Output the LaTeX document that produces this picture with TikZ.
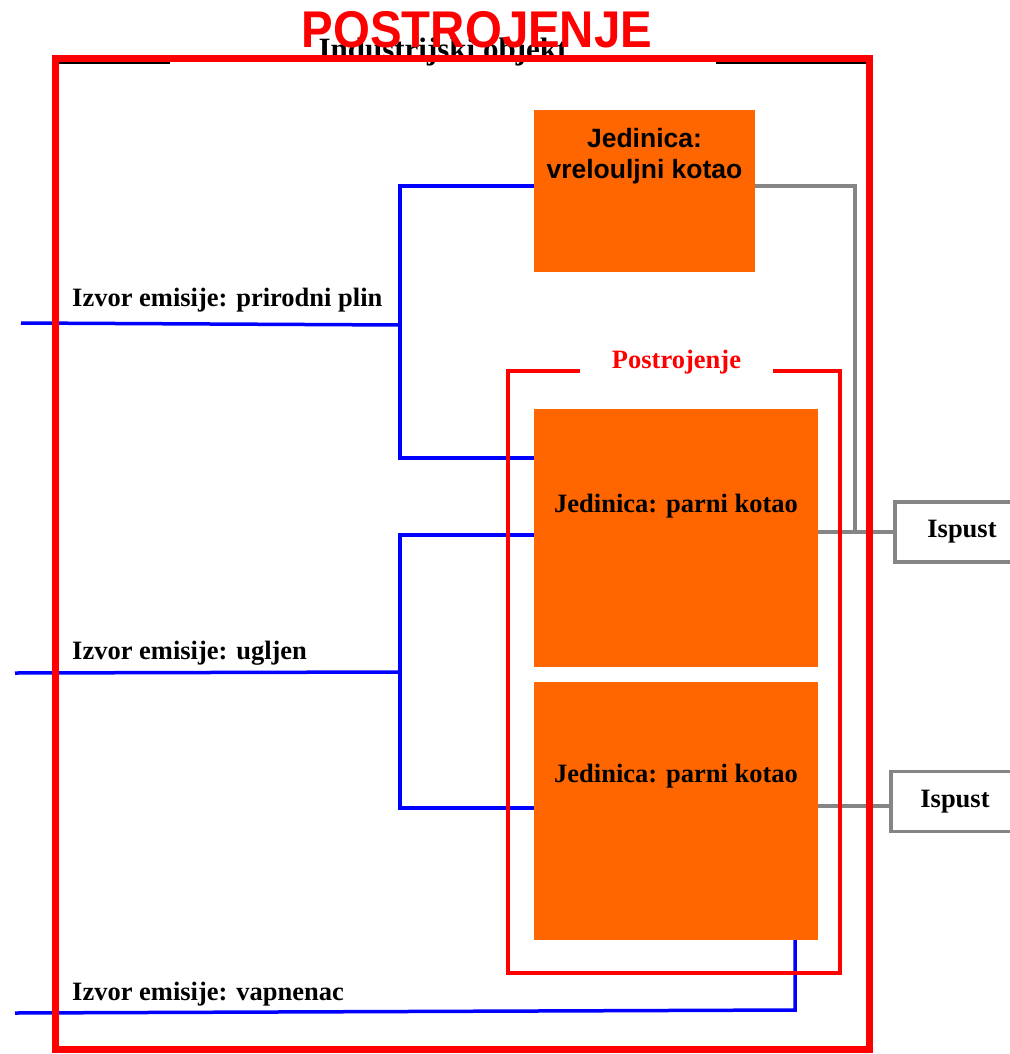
\documentclass[tikz,border=0pt]{standalone}
\usepackage{fontspec}
\setmainfont{Liberation Serif}
\newfontfamily\arialf{Liberation Sans}
\definecolor{orng}{HTML}{FF6600}
\definecolor{gry}{HTML}{858585}
\definecolor{blu}{HTML}{0000FF}
\definecolor{rd}{HTML}{FF0000}
\begin{document}
\begin{tikzpicture}[x=1pt,y=-1pt,
  lbl/.style={font=\fontsize{26.5}{30}\selectfont\bfseries, inner sep=0},
  sanslbl/.style={font=\arialf\fontsize{26.5}{31}\selectfont\bfseries, inner sep=0},
  unitbox/.style={fill=orng, draw=none, inner sep=0},
  bluel/.style={draw=blu, line width=3.5},
  grayl/.style={draw=gry, line width=3.5},
  outlet/.style={draw=gry, line width=3.5, fill=white, inner sep=0, minimum height=60,
                 font=\fontsize{26.5}{30}\selectfont\bfseries}]
\useasboundingbox (0,0) rectangle (1009,1054);

% thin black frame of the industrial object with gap for its title
\draw[black, line width=1.2] (55,63) rectangle (869.5,1049);
\fill[white] (170,58) rectangle (716,67);
\node[font=\fontsize{31}{34}\selectfont\bfseries, inner sep=0, anchor=base] (indobj) at (443,60) {Industrijski objekt};

% unit boxes
\node[unitbox, minimum width=221, minimum height=162] (box1) at (644.5,191) {};
\node[unitbox, minimum width=284, minimum height=258] (box2) at (676,538) {};
\node[unitbox, minimum width=284, minimum height=258] (box3) at (676,811) {};

% outlets
\node[outlet, minimum width=134] (out1) at (962,532) {Ispust};
\node[outlet, minimum width=128] (out2) at (955,801.5) {Ispust};

% coordinates for connector joints
\coordinate (p0) at (21,323);
\coordinate (pj) at (400,325);
\coordinate (pt) at (400,186);
\coordinate (pb) at (400,458);
\coordinate (u0) at (15,673);
\coordinate (uj) at (400,672);
\coordinate (ut) at (400,535);
\coordinate (ub) at (400,808);
\coordinate (v0) at (15,1013);
\coordinate (vj) at (795,1010);
\coordinate (gj) at (855,186);
\coordinate (o2) at (0,806);

% blue source lines
\draw[bluel] (p0) -- (pj);
\draw[bluel] (box1.west |- pt) -- (pt) -- (pb) -- (box2.west |- pb);
\draw[bluel] (u0) -- (uj);
\draw[bluel] (box2.west |- ut) -- (ut) -- (ub) -- (box3.west |- ub);
\draw[bluel] (v0) -- (vj) -- (vj |- box3.south);

% gray outlet lines
\draw[grayl] (box1.east |- gj) -- (gj) -- (gj |- out1.west);
\draw[grayl] (box2.east |- out1.west) -- (out1.west);
\draw[grayl] (box3.east |- o2) -- (out2.west |- o2);

% plant frame with gap for its title
\draw[rd, line width=3.5] (580,371) -- (508,371) -- (508,973) -- (840,973) -- (840,371) -- (773,371);
\node[lbl, text=rd, anchor=base] (plant) at (676.5,368) {Postrojenje};

% outer red frame
\draw[rd, line width=7] (55,58.5) rectangle (869.5,1049);

% texts
\node[sanslbl, anchor=base] (u1a) at (644.5,147) {Jedinica:};
\node[sanslbl, anchor=base] (u1b) at (644.5,178) {vrelouljni kotao};
\node[lbl, anchor=base] (u2) at (676,512.5) {Jedinica: parni kotao};
\node[lbl, anchor=base] (u3) at (676,782) {Jedinica: parni kotao};
\node[lbl, anchor=base west] (lp) at (72,306.5) {Izvor emisije: prirodni plin};
\node[lbl, anchor=base west] (lu) at (72,659) {Izvor emisije: ugljen};
\node[lbl, anchor=base west] (lv) at (72,1000) {Izvor emisije: vapnenac};

% big title
\node[inner sep=0, anchor=base, text=rd] (title) at (477,48)
  {\scalebox{1}[1.09]{\arialf\fontsize{47.4}{50}\selectfont\bfseries POSTROJENJE}};
\end{tikzpicture}
\end{document}
